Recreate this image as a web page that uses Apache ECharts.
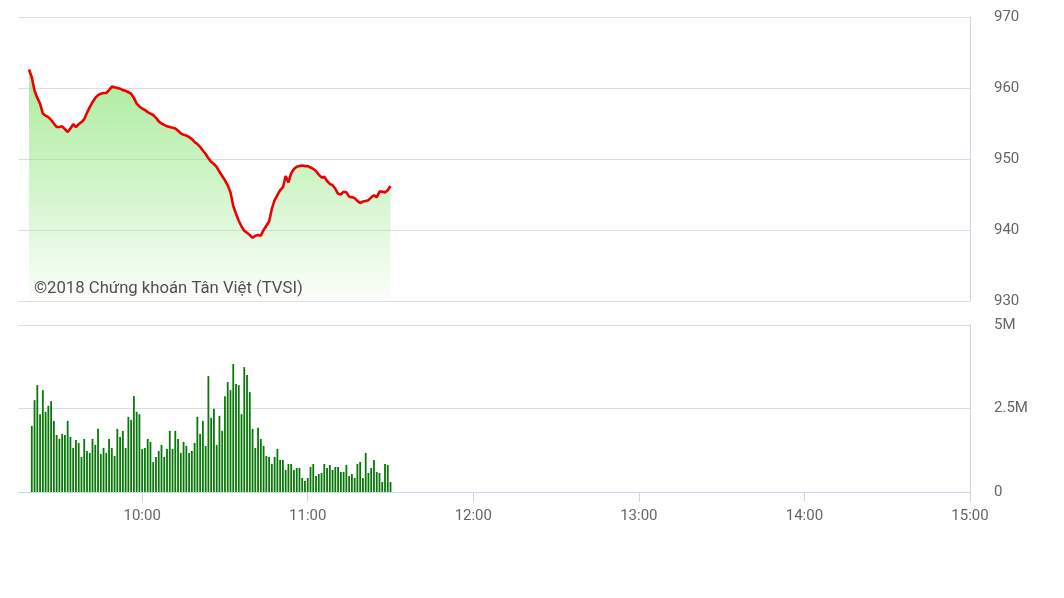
<!DOCTYPE html>
<html>
<head>
<meta charset="utf-8">
<script src="https://cdn.jsdelivr.net/npm/echarts@6/dist/echarts.min.js"></script>
<style>
html,body{margin:0;padding:0;background:#fff;}
#chart{width:1064px;height:598px;}
</style>
</head>
<body>
<div id="chart"></div>
<script>
// Session / time settings
const lineStart = '09:19';
const volStart = '09:20';
const axisStart = '09:15';
const axisEnd = '15:00';
const hourTicks = ['10:00', '11:00', '12:00', '13:00', '14:00', '15:00'];
const priceTicks = [930, 940, 950, 960, 970];
const volumeTicks = [0, 2.5, 5];
const watermark = '©2018 Chứng khoán Tân Việt (TVSI)';

// Index value, one point per minute from lineStart
const priceValues = [
  962.6, 961.5, 959.6, 958.6, 957.8, 956.4, 956.1, 955.9, 955.5, 955.0,
  954.5, 954.5, 954.6, 954.2, 953.8, 954.3, 954.9, 954.5, 954.9, 955.2,
  955.6, 956.5, 957.3, 958.0, 958.6, 959.0, 959.2, 959.3, 959.3, 959.7,
  960.2, 960.1, 960.0, 959.9, 959.7, 959.6, 959.4, 959.2, 958.6, 957.8,
  957.4, 957.1, 956.9, 956.6, 956.4, 956.2, 955.8, 955.3, 955.0, 954.8,
  954.6, 954.5, 954.4, 954.3, 954.0, 953.6, 953.4, 953.3, 953.1, 952.8,
  952.4, 952.1, 951.7, 951.2, 950.7, 950.1, 949.6, 949.3, 948.9, 948.2,
  947.6, 947.0, 946.3, 945.3, 943.4, 942.3, 941.3, 940.5, 939.9, 939.6,
  939.3, 938.9, 939.2, 939.3, 939.2, 940.0, 940.6, 941.2, 943.0, 944.2,
  944.9, 945.6, 946.0, 947.6, 946.7, 948.0, 948.6, 948.9, 949.0, 949.1,
  949.0, 949.0, 948.8, 948.6, 948.3, 947.8, 947.4, 947.5, 946.9, 946.5,
  946.3, 945.8, 945.1, 945.0, 945.4, 945.3, 944.7, 944.6, 944.5, 944.1,
  943.8, 944.0, 944.1, 944.2, 944.6, 944.9, 944.6, 945.4, 945.4, 945.3,
  945.6, 946.2
];

// Volume in millions, one bar per minute from volStart
const volumeValues = [
  1.98, 2.75, 3.2, 2.33, 3.05, 2.4, 2.58, 2.72, 2.13, 1.71,
  1.59, 1.74, 1.71, 2.13, 1.65, 1.32, 1.56, 1.47, 1.05, 1.59,
  1.23, 1.17, 1.59, 1.41, 1.89, 1.14, 1.32, 1.17, 1.59, 1.32,
  1.08, 1.89, 1.65, 1.83, 1.32, 2.25, 2.16, 2.87, 2.4, 2.33,
  1.29, 1.32, 1.59, 1.5, 0.9, 1.05, 1.23, 1.41, 1.05, 1.29,
  1.83, 1.29, 1.83, 1.59, 1.17, 1.5, 1.38, 1.17, 1.23, 1.47,
  2.25, 1.74, 2.13, 1.38, 3.47, 2.22, 2.49, 1.41, 2.28, 1.83,
  2.87, 3.29, 3.05, 3.83, 3.23, 3.2, 2.33, 3.74, 3.5, 2.99,
  1.89, 1.32, 1.92, 1.59, 1.38, 1.08, 1.05, 0.84, 1.05, 1.29,
  0.96, 0.96, 0.66, 0.84, 0.84, 0.66, 0.72, 0.72, 0.42, 0.33,
  0.42, 0.75, 0.84, 0.48, 0.54, 0.57, 0.84, 0.72, 0.81, 0.66,
  0.75, 0.75, 0.6, 0.6, 0.81, 0.48, 0.54, 0.42, 0.84, 0.9,
  0.42, 1.17, 0.57, 0.72, 0.96, 0.6, 0.57, 0.3, 0.84, 0.81,
  0.3
];

function toMin(s) { const p = s.split(':').map(Number); return p[0] * 60 + p[1]; }
function fmtMin(v) { const h = Math.floor(v / 60), m = Math.round(v % 60); return h + ':' + String(m).padStart(2, '0'); }

const lineData = priceValues.map((v, i) => [toMin(lineStart) + i, v]);
const volData = volumeValues.map((v, i) => [toMin(volStart) + i, v]);
const tickMins = hourTicks.map(toMin);

const FONT = 'Roboto';
const LABEL = '#666666';
const GRIDC = '#dedede';
const AXISC = '#ccd6eb';

const chart = echarts.init(document.getElementById('chart'), null, { renderer: 'canvas' });
chart.setOption({
  animation: false,
  backgroundColor: '#ffffff',
  grid: [
    { left: 18, right: 94, top: 17, bottom: 297 },
    { left: 18, right: 94, top: 325, bottom: 106 }
  ],
  xAxis: [
    {
      gridIndex: 0, type: 'value', min: toMin(axisStart), max: toMin(axisEnd),
      show: false, splitLine: { show: false }
    },
    {
      gridIndex: 1, type: 'value', min: toMin(axisStart), max: toMin(axisEnd),
      axisLine: { show: true, lineStyle: { color: AXISC, width: 1 } },
      axisTick: { show: true, length: 10, lineStyle: { color: AXISC }, customValues: tickMins },
      axisLabel: {
        customValues: tickMins, formatter: v => fmtMin(v), margin: 17,
        color: LABEL, fontFamily: FONT, fontSize: 15
      },
      splitLine: { show: false }
    }
  ],
  yAxis: [
    {
      gridIndex: 0, type: 'value', position: 'right',
      min: priceTicks[0], max: priceTicks[priceTicks.length - 1], interval: 10,
      axisLine: { show: true, lineStyle: { color: AXISC } },
      axisTick: { show: false },
      axisLabel: { margin: 24, color: LABEL, fontFamily: FONT, fontSize: 15, padding: [7, 0, 0, 0] },
      splitLine: { show: true, lineStyle: { color: GRIDC, width: 1 } }
    },
    {
      gridIndex: 1, type: 'value', position: 'right',
      min: volumeTicks[0], max: volumeTicks[volumeTicks.length - 1], interval: 2.5,
      axisLine: { show: true, lineStyle: { color: AXISC } },
      axisTick: { show: false },
      axisLabel: {
        margin: 24, color: LABEL, fontFamily: FONT, fontSize: 15, padding: [7, 0, 0, 0],
        formatter: v => (v === 0 ? '0' : v + 'M')
      },
      splitLine: { show: true, lineStyle: { color: GRIDC, width: 1 } }
    }
  ],
  series: [
    {
      type: 'line', xAxisIndex: 0, yAxisIndex: 0, data: lineData,
      showSymbol: false, smooth: false,
      lineStyle: { color: '#ee0000', width: 2.6 },
      areaStyle: {
        origin: 'start',
        color: new echarts.graphic.LinearGradient(0, 0, 0, 1, [
          { offset: 0, color: 'rgba(135,228,115,1)' },
          { offset: 0.5, color: 'rgba(135,228,115,0.55)' },
          { offset: 1, color: 'rgba(135,228,115,0.04)' }
        ])
      },
      z: 3
    },
    {
      type: 'bar', xAxisIndex: 1, yAxisIndex: 1, data: volData,
      barWidth: 1.8, itemStyle: { color: '#087808' }
    }
  ],
  graphic: [
    {
      type: 'text', left: 34, top: 280, z: 10,
      style: { text: watermark, fill: '#505050', font: '16.7px Roboto' }
    }
  ]
});
</script>
</body>
</html>
